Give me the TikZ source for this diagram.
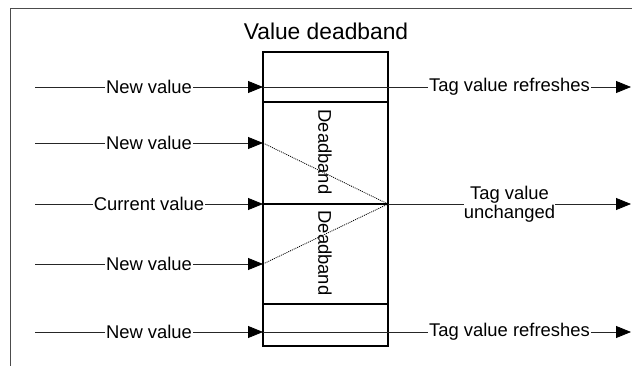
\documentclass[tikz,border=0pt]{standalone}
\usepackage{fontspec}
\setmainfont{Liberation Sans}
\usetikzlibrary{arrows.meta}
\begin{document}
\begin{tikzpicture}[x=1pt,y=-1pt,
  conn/.style={draw=black!85,line width=0.8pt},
  arr/.style={conn,-{Triangle[length=15pt,width=12pt,color=black,fill=black]}},
  lbl/.style={fill=white,inner sep=1pt,font=\fontsize{18.4}{20}\selectfont},
  boxline/.style={draw=black,line width=1.5pt},
  dotl/.style={draw=black,line width=0.8pt,dash pattern=on 1pt off 1pt},
  rot/.style={rotate=-90,inner sep=0pt,font=\fontsize{18.4}{20}\selectfont}]
\useasboundingbox (0,0) rectangle (632,366);
\draw[draw=black!70,line width=0.8pt] (632,8) -- (10,8) -- (10,366);
\node[font=\fontsize{22.8}{24}\selectfont] (title) at (326,31) {Value deadband};
% box
\coordinate (bTL) at (263,52);
\coordinate (bBR) at (388,346);
\draw[boxline] (bTL) rectangle (bBR);
\draw[boxline] (263,102) -- (388,102);
\draw[boxline] (263,304) -- (388,304);
\draw[boxline] (263,204) -- (388,204);
% left starts
\foreach \n/\y in {a/87,b/143,c/204,d/264,e/332}{
  \coordinate (s\n) at (35,\y);
  \coordinate (t\n) at (263,\y);
}
\coordinate (ra) at (388,87);
\coordinate (re) at (388,332);
\coordinate (rc) at (388,204);
\coordinate (ea) at (631,87);
\coordinate (ee) at (631,332);
\coordinate (ec) at (631,204);
\draw[arr] (sa) -- node[lbl,pos=0.5] {New value} (ta);
\draw[arr] (sb) -- node[lbl,pos=0.5] {New value} (tb);
\draw[arr] (sc) -- node[lbl,pos=0.5] {Current value} (tc);
\draw[arr] (sd) -- node[lbl,pos=0.5] {New value} (td);
\draw[arr] (se) -- node[lbl,pos=0.5] {New value} (te);
% right side
\draw[conn] (ta) -- (ra);
\draw[conn] (te) -- (re);
\draw[arr] (ra) -- node[lbl,pos=0.5] {Tag value refreshes} (ea);
\draw[arr] (re) -- node[lbl,pos=0.5] {Tag value refreshes} (ee);
\draw[arr] (rc) -- node[lbl,pos=0.5,align=center,inner sep=0pt,font=\fontsize{18.4}{19.5}\selectfont] {Tag value\\unchanged} (ec);
% dotted
\draw[dotl] (tb) -- (rc);
\draw[dotl] (td) -- (rc);
\node[rot] (db1) at (325,152) {Deadband};
\node[rot] (db2) at (325,253) {Deadband};
\end{tikzpicture}
\end{document}
